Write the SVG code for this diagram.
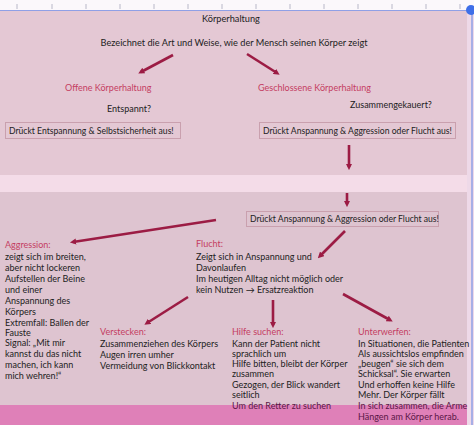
<svg xmlns="http://www.w3.org/2000/svg" width="474" height="425" viewBox="0 0 474 425">
<defs>
<style>
text{font-family:Lato,"Open Sans","Liberation Sans",sans-serif;font-size:9px;fill:#222}
.t{font-size:9.2px}
.s{font-size:8.6px}
.h{fill:#c43d62}
.b{fill:#5a1646}
.box{fill:none;stroke:#c9a0ae;stroke-width:1}
.c{stroke:#9c1c44;stroke-width:2.6;fill:none;marker-end:url(#ah)}
.tick{stroke:#b8b8c8;stroke-width:1}
</style>
<marker id="ah" viewBox="0 0 10 10" refX="5" refY="5" markerWidth="2.4" markerHeight="2.4" orient="auto" markerUnits="strokeWidth">
<path d="M0,0L10,5L0,10z" fill="#9c1c44"/>
</marker>
</defs>
<rect x="0" y="0" width="474" height="425" fill="#f4dce8"/>
<rect x="0" y="0" width="474" height="10" fill="#fbf8fb"/>
<g id="ruler">
<path class="tick" d="M17,4v5M52,4v5M86,4v5M120,4v5M154,4v5M188,4v5M222,4v5M256,4v5M290,4v5M324,4v5M358,4v5M392,4v5M426,4v5M460,4v5"/>
</g>
<rect x="0" y="10" width="467" height="165" fill="#e4c8d4"/>
<rect x="0" y="192" width="467" height="233" fill="#dec4d0"/>
<rect x="0" y="405" width="467" height="20" fill="#df80b8"/>
<rect x="467" y="10" width="7" height="415" fill="#eed9e8"/>
<line x1="0" y1="10.5" x2="468" y2="10.5" stroke="#8fa0e6" stroke-width="1.2"/>
<line x1="472" y1="12" x2="472" y2="425" stroke="#8fa0e6" stroke-width="1.5"/>
<circle cx="471" cy="10" r="5" fill="#3f6fe8"/>

<g id="connectors">
<line class="c" x1="173" y1="55" x2="141" y2="72"/>
<line class="c" x1="247" y1="54" x2="277" y2="73"/>
<line class="c" x1="349" y1="145" x2="349" y2="167"/>
<line class="c" x1="347" y1="193" x2="347" y2="204"/>
<line class="c" x1="216" y1="220" x2="73" y2="242"/>
<line class="c" x1="345" y1="231" x2="320" y2="256"/>
<line class="c" x1="188" y1="297" x2="147" y2="323"/>
<line class="c" x1="273" y1="300" x2="273" y2="325"/>
<line class="c" x1="343" y1="294" x2="390" y2="320"/>
</g>

<g id="n-title"><text class="t" x="231" y="22" text-anchor="middle">Körperhaltung</text></g>
<g id="n-def"><text class="t" x="234" y="46" text-anchor="middle">Bezeichnet die Art und Weise, wie der Mensch seinen Körper zeigt</text></g>
<g id="n-offen"><text class="h" x="65" y="91">Offene Körperhaltung</text></g>
<g id="n-geschlossen"><text class="h" x="258" y="91">Geschlossene Körperhaltung</text></g>
<g id="n-entspannt"><text x="107" y="112">Entspannt?</text></g>
<g id="n-zusammen"><text x="350" y="108">Zusammengekauert?</text></g>
<g id="n-box1"><rect class="box" x="5.5" y="122.5" width="175" height="16"/><text class="s" x="9" y="134">Drückt Entspannung &amp; Selbstsicherheit aus!</text></g>
<g id="n-box2"><rect class="box" x="259.5" y="122.5" width="196" height="16"/><text class="s" x="263" y="134">Drückt Anspannung &amp; Aggression oder Flucht aus!</text></g>
<g id="n-box3"><rect class="box" x="246.5" y="211.5" width="192" height="15"/><text class="s" x="250" y="222">Drückt Anspannung &amp; Aggression oder Flucht aus!</text></g>

<g id="n-aggression">
<text class="h" x="5" y="248">Aggression:</text>
<text x="5" y="260">zeigt sich im breiten,</text>
<text x="5" y="271">aber nicht lockeren</text>
<text x="5" y="282">Aufstellen der Beine</text>
<text x="5" y="293">und einer</text>
<text x="5" y="304">Anspannung des</text>
<text x="5" y="315">Körpers</text>
<text x="5" y="326">Extremfall: Ballen der</text>
<text x="5" y="336">Fauste</text>
<text x="5" y="346">Signal: „Mit mir</text>
<text x="5" y="357">kannst du das nicht</text>
<text x="5" y="368">machen, ich kann</text>
<text x="5" y="379">mich wehren!“</text>
</g>
<g id="n-flucht">
<text class="h" x="196" y="247">Flucht:</text>
<text x="196" y="260">Zeigt sich in Anspannung und</text>
<text x="196" y="271">Davonlaufen</text>
<text x="196" y="282">Im heutigen Alltag nicht möglich oder</text>
<text x="196" y="293">kein Nutzen → Ersatzreaktion</text>
</g>
<g id="n-verstecken">
<text class="h" x="100" y="335">Verstecken:</text>
<text x="100" y="347">Zusammenziehen des Körpers</text>
<text x="100" y="358">Augen irren umher</text>
<text x="100" y="369">Vermeidung von Blickkontakt</text>
</g>
<g id="n-hilfe">
<text class="h" x="232" y="334.5">Hilfe suchen:</text>
<text x="232" y="346.5">Kann der Patient nicht</text>
<text x="232" y="356.5">sprachlich um</text>
<text x="232" y="367">Hilfe bitten, bleibt der Körper</text>
<text x="232" y="377">zusammen</text>
<text x="232" y="387.5">Gezogen, der Blick wandert</text>
<text x="232" y="398">seitlich</text>
<text class="b" x="232" y="409">Um den Retter zu suchen</text>
</g>
<g id="n-unterwerfen">
<text class="h" x="358" y="334.5">Unterwerfen:</text>
<text x="358" y="346.5">In Situationen, die Patienten</text>
<text x="358" y="356.5">Als aussichtslos empfinden</text>
<text x="358" y="367">„beugen“ sie sich dem</text>
<text x="358" y="377">Schicksal“. Sie erwarten</text>
<text x="358" y="387.5">Und erhoffen keine Hilfe</text>
<text x="358" y="398">Mehr. Der Körper fällt</text>
<text class="b" x="358" y="409">In sich zusammen, die Arme</text>
<text class="b" x="358" y="420">Hängen am Körper herab.</text>
</g>
</svg>
